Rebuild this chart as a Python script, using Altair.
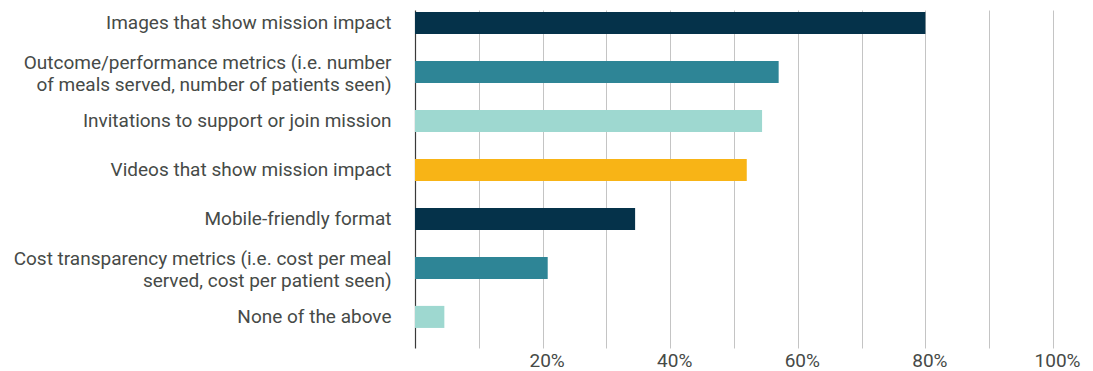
import altair as alt
import pandas as pd

categories = [
    "Images that show mission impact",
    "Outcome/performance metrics (i.e. number|of meals served, number of patients seen)",
    "Invitations to support or join mission",
    "Videos that show mission impact",
    "Mobile-friendly format",
    "Cost transparency metrics (i.e. cost per meal|served, cost per patient seen)",
    "None of the above",
]
values = [0.80, 0.57, 0.544, 0.52, 0.345, 0.208, 0.046]
colors = ["#05324a", "#2e8596", "#9ed8d0", "#f8b416", "#05324a", "#2e8596", "#9ed8d0"]
grid_values = [0.1, 0.2, 0.3, 0.4, 0.5, 0.6, 0.7, 0.8, 0.9, 1.0]

df = pd.DataFrame({"category": categories, "value": values, "color": colors})

FONT = "Roboto"
TEXT_COLOR = "#464a47"
FONT_SIZE = 19

chart = alt.Chart(df).mark_bar().encode(
    y=alt.Y(
        "category:N",
        sort=categories,
        title=None,
        scale=alt.Scale(paddingInner=0.55, paddingOuter=0.225, align=0.09),
        axis=alt.Axis(
            ticks=False,
            labelPadding=24,
            labelFontSize=FONT_SIZE,
            labelColor=TEXT_COLOR,
            labelFont=FONT,
            labelLimit=500,
            labelLineHeight=22,
            labelExpr="split(datum.label, '|')",
            labelOffset={"condition": {"test": "indexof(datum.value, '|') >= 0", "value": -9}, "value": 0},
            domainColor="#3a3a3a",
            domainWidth=1.2,
            grid=False,
        ),
    ),
    x=alt.X(
        "value:Q",
        title=None,
        scale=alt.Scale(domain=[0, 1], nice=False),
        axis=alt.Axis(
            values=grid_values,
            format=".0%",
            labelExpr="round(datum.value*10) % 2 == 0 ? datum.label : ''",
            ticks=False,
            domain=False,
            grid=True,
            gridColor="#c4c4c4",
            gridWidth=1,
            labelFontSize=FONT_SIZE,
            labelColor=TEXT_COLOR,
            labelFont=FONT,
            labelPadding=3,
            labelOffset=4,
            labelFlush=False,
            labelOverlap=False,
        ),
    ),
    color=alt.Color("color:N", scale=None, legend=None),
).properties(
    width=638,
    height=338,
    autosize=alt.AutoSizeParams(type="none"),
    padding={"left": 415, "top": 10, "right": 40, "bottom": 23},
).configure_view(stroke=None)

chart.save("out.html", embed_options={"renderer": "svg", "actions": False})
